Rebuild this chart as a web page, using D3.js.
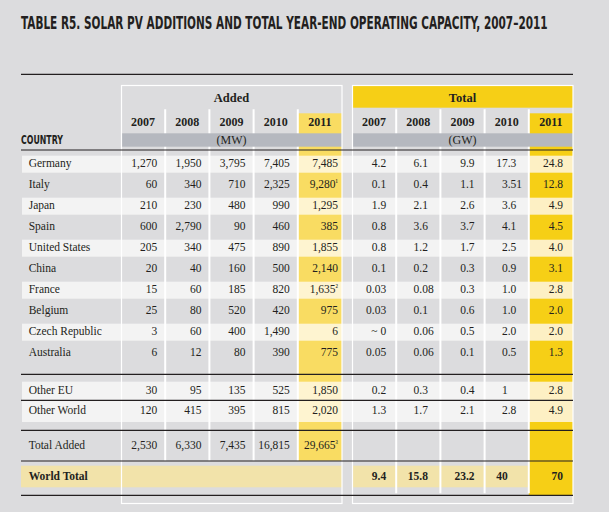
<!DOCTYPE html>
<html lang="en">
<head>
  <meta charset="UTF-8" />
  <title>Table R5</title>
  <script src="https://d3js.org/d3.v7.min.js"></script>
  <style>
    body { margin: 0; background: #dcdcde; }
    svg { display: block; }
    .serif { font-family: "Liberation Serif", "DejaVu Serif", serif; fill: #231f20; }
    .cond { font-family: "Liberation Sans Narrow", "DejaVu Sans Condensed", "DejaVu Sans", sans-serif; font-weight: bold; fill: #231f20; }
  </style>
</head>
<body>
<svg></svg>
<script>
  const years = ["2007", "2008", "2009", "2010", "2011"];
  const countries = ["Germany", "Italy", "Japan", "Spain", "United States", "China", "France", "Belgium", "Czech Republic", "Australia"];

  // added capacity, MW
  const added2007 = [1270, 60, 210, 600, 205, 20, 15, 25, 3, 6];
  const added2008 = [1950, 340, 230, 2790, 340, 40, 60, 80, 60, 12];
  const added2009 = [3795, 710, 480, 90, 475, 160, 185, 520, 400, 80];
  const added2010 = [7405, 2325, 990, 460, 890, 500, 820, 420, 1490, 390];
  const added2011 = [7485, 9280, 1295, 385, 1855, 2140, 1635, 975, 6, 775];

  // year-end total, GW (kept as printed)
  const total2007 = ["4.2", "0.1", "1.9", "0.8", "0.8", "0.1", "0.03", "0.03", "~ 0", "0.05"];
  const total2008 = ["6.1", "0.4", "2.1", "3.6", "1.2", "0.2", "0.08", "0.1", "0.06", "0.06"];
  const total2009 = ["9.9", "1.1", "2.6", "3.7", "1.7", "0.3", "0.3", "0.6", "0.5", "0.1"];
  const total2010 = ["17.3", "3.51", "3.6", "4.1", "2.5", "0.9", "1.0", "1.0", "2.0", "0.5"];
  const total2011 = ["24.8", "12.8", "4.9", "4.5", "4.0", "3.1", "2.8", "2.0", "2.0", "1.3"];

  const otherRows = ["Other EU", "Other World"];
  const otherAdded = [[30, 95, 135, 525, 1850], [120, 415, 395, 815, 2020]];
  const otherTotal = [["0.2", "0.3", "0.4", "1", "2.8"], ["1.3", "1.7", "2.1", "2.8", "4.9"]];
  const totalAdded = [2530, 6330, 7435, 16815, 29665];
  const worldTotal = ["9.4", "15.8", "23.2", "40", "70"];
  const notes = { "Italy": "¹", "France": "²", "Total Added": "³" };

  const W = 609, H = 512;
  const ink = "#231f20";
  const svg = d3.select("svg").attr("width", W).attr("height", H);
  svg.append("rect").attr("width", W).attr("height", H).attr("fill", "#dcdcde");

  const xA = d3.scaleBand().domain(years).range([121, 342]);
  const xT = d3.scaleBand().domain(years).range([352, 573]);
  const bw = xA.bandwidth();
  const yC = d3.scalePoint().domain(countries).range([163.3, 352.3]);
  const yO = d3.scalePoint().domain(otherRows).range([390.3, 410.3]);
  const yTotalAdded = 445.3, yWorld = 476.3;
  const left = 21, right = 573;

  const addedCols = [added2007, added2008, added2009, added2010, added2011];
  const totalCols = [total2007, total2008, total2009, total2010, total2011];
  const rows = countries.map((c, i) => ({
    name: c, y: yC(c), light: i % 2 === 0,
    added: addedCols.map(a => a[i]), total: totalCols.map(t => t[i])
  }));
  otherRows.forEach((c, i) => rows.push({ name: c, y: yO(c), light: true, added: otherAdded[i], total: otherTotal[i] }));
  rows.push({ name: "Total Added", y: yTotalAdded, light: false, added: totalAdded, total: null });

  // light row bands
  const g = svg.append("g");
  const lightCountries = rows.filter(r => r.light && !otherRows.includes(r.name));
  const otherTop = yO("Other EU") - 8.6, otherH = yO("Other World") - yO("Other EU") + 20.3;
  g.selectAll(".band").data(lightCountries).join("rect")
    .attr("x", left + 1).attr("width", right - left - 1)
    .attr("y", d => d.y - 7.6).attr("height", 17).attr("fill", "#f3f3f3");
  g.append("rect").attr("x", left + 1).attr("width", right - left - 1)
    .attr("y", otherTop).attr("height", otherH).attr("fill", "#f3f3f3");

  // 2011 highlight strips
  g.append("rect").attr("x", xA("2011")).attr("width", bw).attr("y", 113.3).attr("height", 460.7 - 113.3).attr("fill", "#f9dc62");
  g.append("rect").attr("x", xT("2011")).attr("width", bw).attr("y", 113.3).attr("height", 495.3 - 113.3).attr("fill", "#f6cf16");
  [[xA, "#fef4d0"], [xT, "#fdf0c4"]].forEach(([x, c]) => {
    g.selectAll(null).data(lightCountries).join("rect")
      .attr("x", x("2011")).attr("width", bw).attr("y", d => d.y - 7.6).attr("height", 17).attr("fill", c);
    g.append("rect").attr("x", x("2011")).attr("width", bw)
      .attr("y", otherTop).attr("height", otherH).attr("fill", c);
  });

  // world total band
  g.append("rect").attr("x", left).attr("width", 342 - left).attr("y", 465.7).attr("height", 21.6).attr("fill", "#f2e3aa");
  g.append("rect").attr("x", 352).attr("width", xT("2011") - 352).attr("y", 465.7).attr("height", 21.6).attr("fill", "#f2e3aa");

  // white column separators
  g.selectAll(".sa").data(years.slice(1)).join("line")
    .attr("x1", d => xA(d)).attr("x2", d => xA(d)).attr("y1", 109.3).attr("y2", 460.7)
    .attr("stroke", "#fff").attr("stroke-width", 2);
  g.selectAll(".st").data(years.slice(1)).join("line")
    .attr("x1", d => xT(d)).attr("x2", d => xT(d)).attr("y1", 109.3).attr("y2", 493.3)
    .attr("stroke", "#fff").attr("stroke-width", 2);

  // header bands
  g.append("rect").attr("x", 352).attr("width", 221).attr("y", 85.3).attr("height", 22.4).attr("fill", "#f6cf16");
  g.append("rect").attr("x", 121).attr("width", 221).attr("y", 133.3).attr("height", 13.4).attr("fill", "#b5b8bf");
  g.append("rect").attr("x", 352).attr("width", 221).attr("y", 133.3).attr("height", 13.4).attr("fill", "#b5b8bf");

  // box outlines
  [[121, 342], [352, 573]].forEach(([a, b]) => {
    g.append("rect").attr("x", a + 0.5).attr("y", 85.5).attr("width", b - a - 0.5).attr("height", 418)
      .attr("fill", "none").attr("stroke", "#fff").attr("stroke-width", 1.2);
  });

  // black rules
  [74.3, 150, 374.3, 400.3, 430.3, 461, 495.3].forEach(y => {
    g.append("line").attr("x1", left).attr("x2", right).attr("y1", y).attr("y2", y)
      .attr("stroke", ink).attr("stroke-width", 1.2);
  });

  // title and COUNTRY label: squeeze horizontally to the printed width
  function fitText(txt, size, y, width) {
    const t = svg.append("text").attr("class", "cond").attr("font-size", size).text(txt);
    const k = Math.min(1, width / t.node().getComputedTextLength());
    t.attr("transform", `translate(${left},${y}) scale(${k},1)`);
  }
  fitText("TABLE R5. SOLAR PV ADDITIONS AND TOTAL YEAR-END OPERATING CAPACITY, 2007–2011", 17, 28.6, 527);
  fitText("COUNTRY", 13, 143.7, 42);

  const hdr = svg.append("g").attr("class", "serif").attr("text-anchor", "middle");
  hdr.append("text").attr("x", 231.5).attr("y", 97.7).attr("dy", "0.35em").attr("font-size", 12.5).attr("font-weight", "bold").text("Added");
  hdr.append("text").attr("x", 462.5).attr("y", 97.7).attr("dy", "0.35em").attr("font-size", 12.5).attr("font-weight", "bold").text("Total");
  hdr.append("text").attr("x", 231.5).attr("y", 140).attr("dy", "0.35em").attr("font-size", 12).text("(MW)");
  hdr.append("text").attr("x", 462.5).attr("y", 140).attr("dy", "0.35em").attr("font-size", 12).text("(GW)");
  [xA, xT].forEach(x => {
    hdr.selectAll(null).data(years).join("text")
      .attr("x", d => x(d) + bw / 2).attr("y", 121.3).attr("dy", "0.35em")
      .attr("font-size", 12).attr("font-weight", "bold").text(d => d);
  });

  // body text
  const body = svg.append("g").attr("class", "serif").attr("font-size", 11.5);
  const fmt = d3.format(",");
  // alignment of the total columns as printed: right, decimal, right, decimal, right
  const totalAlign = ["end", "dec", "end", "dec", "end"];

  function totalCell(sel, s, j, y, bold) {
    const x0 = xT(years[j]);
    const w = bold ? "bold" : null;
    if (totalAlign[j] === "end") {
      sel.append("text").attr("x", x0 + bw - 10).attr("y", y).attr("dy", "0.35em")
        .attr("text-anchor", "end").attr("font-weight", w).text(s);
    } else {
      const dx = x0 + bw / 2 + 1;
      const k = s.indexOf(".");
      const ip = k < 0 ? s : s.slice(0, k), fp = k < 0 ? "" : s.slice(k);
      sel.append("text").attr("x", dx).attr("y", y).attr("dy", "0.35em")
        .attr("text-anchor", "end").attr("font-weight", w).text(ip);
      if (fp) sel.append("text").attr("x", dx).attr("y", y).attr("dy", "0.35em")
        .attr("font-weight", w).text(fp);
    }
  }

  rows.forEach(r => {
    body.append("text").attr("x", 28.7).attr("y", r.y).attr("dy", "0.35em").text(r.name);
    r.added.forEach((v, j) => {
      const t = body.append("text").attr("x", xA(years[j]) + bw - (j === 4 ? 4 : 8))
        .attr("y", r.y).attr("dy", "0.35em").attr("text-anchor", "end").text(fmt(v));
      if (j === 4 && notes[r.name]) t.append("tspan").attr("font-size", 8).attr("dy", -3.5).text(notes[r.name]);
    });
    if (r.total) r.total.forEach((s, j) => totalCell(body, s, j, r.y, false));
  });

  body.append("text").attr("x", 28.7).attr("y", yWorld).attr("dy", "0.35em").attr("font-weight", "bold").text("World Total");
  worldTotal.forEach((s, j) => totalCell(body, s, j, yWorld, true));
</script>
</body>
</html>
